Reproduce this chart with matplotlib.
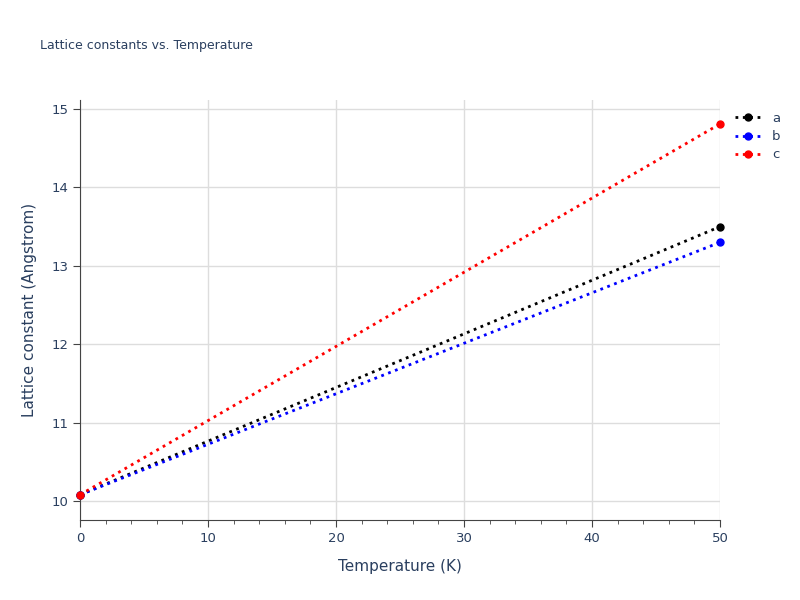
import matplotlib
matplotlib.use("Agg")
import matplotlib.pyplot as plt
from matplotlib.ticker import MultipleLocator

temperature = [0, 50]
a_vals = [10.08, 13.50]
b_vals = [10.08, 13.30]
c_vals = [10.08, 14.81]
series = [("a", a_vals, "black"), ("b", b_vals, "blue"), ("c", c_vals, "red")]

fig = plt.figure(figsize=(8, 6), dpi=100)
ax = fig.add_axes([0.1, 0.1333, 0.8, 0.7])
for name, vals, col in series:
    ax.plot(temperature, vals, linestyle=":", color=col, linewidth=2, marker="o",
            markersize=5, label=name, clip_on=False, zorder=3)
ax.set_xlim(0, 50)
ax.set_ylim(9.758, 15.115)
ax.xaxis.set_major_locator(MultipleLocator(10))
ax.xaxis.set_minor_locator(MultipleLocator(2))
ax.yaxis.set_major_locator(MultipleLocator(1))
ax.grid(True, which="major", color="#dddddd", linewidth=1)
ax.set_axisbelow(True)
for s in ["top", "right"]:
    ax.spines[s].set_visible(False)
for s in ["left", "bottom"]:
    ax.spines[s].set_color("#444444")
ax.tick_params(axis="both", colors="#444444", labelcolor="#2a3f5f", labelsize=9.5)
ax.tick_params(axis="x", which="major", length=5)
ax.tick_params(axis="x", which="minor", length=3, color="#444444")
ax.tick_params(axis="y", length=5)
ax.set_xlabel("Temperature (K)", fontsize=11, color="#2a3f5f", labelpad=10)
ax.set_ylabel("Lattice constant (Angstrom)", fontsize=11, color="#2a3f5f", labelpad=10)
fig.text(0.05, 0.918, "Lattice constants vs. Temperature", fontsize=9, color="#2a3f5f")
leg = ax.legend(loc="upper left", bbox_to_anchor=(1.005, 1.0), frameon=False,
                fontsize=9.5, handlelength=2, labelcolor="#2a3f5f", labelspacing=0.4)
fig.savefig("out.png", dpi=100)
